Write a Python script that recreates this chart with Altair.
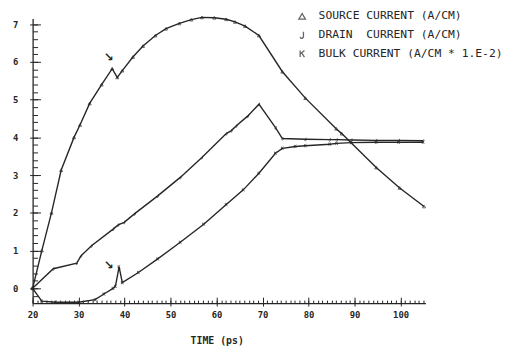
import altair as alt
import pandas as pd

# ---- data ----
series_names = [
    "SOURCE CURRENT (A/CM)",
    "DRAIN\u00a0\u00a0CURRENT (A/CM)",
    "BULK CURRENT (A/CM * 1.E-2)",
]

source_t = [20, 22, 24.1, 26.2, 29.0, 30.3, 32.4, 35.0, 37.3, 38.4, 39.5, 41.8, 44.0,
            46.7, 49.0, 51.9, 54.5, 56.8, 59.5, 62.1, 64.0, 66.2, 69.2, 74.3, 79.3,
            86.0, 87.2, 94.7, 99.8, 105.1]
source_i = [0, 1.0, 2.0, 3.13, 4.0, 4.33, 4.9, 5.4, 5.82, 5.59, 5.77, 6.13, 6.42,
            6.7, 6.88, 7.02, 7.12, 7.18, 7.17, 7.13, 7.06, 6.95, 6.7, 5.74, 5.04,
            4.23, 4.1, 3.2, 2.66, 2.17]

drain_t = [20, 24.5, 29.6, 30.5, 32.8, 37.5, 38.6, 39.9, 42.2, 47.2, 52.1, 56.8,
           62.1, 63.2, 64.3, 66.8, 69.2, 72.8, 74.3, 79.3, 84.6, 86.1, 89.3, 94.7,
           99.6, 104.9]
drain_i = [0, 0.52, 0.67, 0.86, 1.13, 1.57, 1.68, 1.75, 1.98, 2.45, 2.94, 3.47,
           4.1, 4.18, 4.31, 4.57, 4.88, 4.26, 3.97, 3.95, 3.94, 3.94, 3.93, 3.92,
           3.92, 3.91]

bulk_t = [20, 22.0, 25, 30, 33.6, 35.5, 37.5, 38.0, 38.8, 39.5, 43, 47.2, 52.1,
          57.2, 62.1, 65.8, 69.2, 72.8, 74.3, 77.1, 79.3, 84.6, 86.1, 89.3, 94.7,
          99.6, 104.9]
bulk_i = [0, -0.34, -0.37, -0.37, -0.3, -0.15, 0.0, 0.05, 0.57, 0.15, 0.42, 0.78,
          1.22, 1.7, 2.22, 2.61, 3.05, 3.58, 3.71, 3.76, 3.78, 3.82, 3.84, 3.86,
          3.87, 3.87, 3.87]

arrow_t = [36.6, 36.6]
arrow_i = [6.12, 0.62]
arrow_txt = ["\u2198", "\u2198"]

x_major = [20, 30, 40, 50, 60, 70, 80, 90, 100]
x_minor = list(range(20, 106))
y_major = [0, 1, 2, 3, 4, 5, 6, 7]
y_minor = [round(-0.2 + 0.2 * k, 1) for k in range(37)]

rows = []
for name, ts, vs in zip(series_names, [source_t, drain_t, bulk_t],
                        [source_i, drain_i, bulk_i]):
    for k, (t, v) in enumerate(zip(ts, vs)):
        rows.append({"series": name, "t": t, "i": v, "order": k})
df = pd.DataFrame(rows)
ann = pd.DataFrame({"t": arrow_t, "i": arrow_i, "txt": arrow_txt})

INK = "#262626"
FONT = "DejaVu Sans Mono"

xs = alt.Scale(domain=[20, 105.4], nice=False, zero=False)
ys = alt.Scale(domain=[-0.39, 7.15], nice=False, zero=False)

shape_range = [
    "triangle-up",
    "M0.4,-1L0.4,0.6L0.1,1L-0.3,1L-0.6,0.6",
    "M-0.6,-1L-0.6,1M0.7,-1L-0.6,0.1M-0.2,-0.3L0.7,1",
]

lines = alt.Chart(df).mark_line(color=INK, strokeWidth=1.4).encode(
    x=alt.X("t:Q", scale=xs, axis=alt.Axis(
        orient="bottom", values=x_major, tickSize=3, tickColor=INK, domainColor=INK,
        domainWidth=1.3, labelFont=FONT, labelFontSize=9, labelFontWeight="bold",
        labelColor=INK, labelPadding=5, labelFlush=False, grid=False,
        title="TIME (ps)", titleFont=FONT, titleFontSize=10, titleFontWeight="bold",
        titleColor=INK, titleX=187, titleY=38, titleBaseline="middle")),
    y=alt.Y("i:Q", scale=ys, axis=alt.Axis(
        orient="left", values=y_major, tickSize=3, tickColor=INK, domainColor=INK,
        domainWidth=1.3, labelFont=FONT, labelFontSize=9, labelFontWeight="bold",
        labelColor=INK, labelPadding=12, labelFlush=False, grid=False, title=None)),
    detail="series:N",
    order="order:Q",
)

points = alt.Chart(df).mark_point(filled=False, size=10, strokeWidth=1, color=INK).encode(
    x=alt.X("t:Q", scale=xs, axis=alt.Axis(
        orient="bottom", values=x_minor, tickSize=3, offset=-3, domain=False,
        labels=False, grid=False, title=None, tickColor=INK)),
    y=alt.Y("i:Q", scale=ys, axis=alt.Axis(
        orient="left", values=y_minor, tickSize=5, offset=-5, domain=False,
        labels=False, grid=False, title=None, tickColor=INK)),
    shape=alt.Shape("series:N", scale=alt.Scale(domain=series_names, range=shape_range),
                    legend=alt.Legend(
                        orient="none", legendX=268, legendY=-8, title=None,
                        labelFont=FONT, labelFontSize=11.5, labelColor=INK,
                        labelLimit=400, labelOffset=11, symbolSize=45,
                        symbolStrokeColor=INK, symbolStrokeWidth=1.3,
                        rowPadding=6, padding=0)),
)

arrows = alt.Chart(ann).mark_text(font="DejaVu Sans", fontSize=12, color=INK,
                                  fontWeight="bold").encode(
    x=alt.X("t:Q", scale=xs, axis=alt.Axis(
        orient="bottom", values=x_major, tickSize=6, offset=-6, domain=False,
        labels=False, grid=False, title=None, tickColor=INK)),
    y=alt.Y("i:Q", scale=ys, axis=alt.Axis(
        orient="left", values=y_major, tickSize=8, offset=-8, domain=False,
        labels=False, grid=False, title=None, tickColor=INK)),
    text="txt:N",
)

chart = alt.layer(lines, points, arrows).resolve_axis(
    x="independent", y="independent"
).properties(
    width=399, height=289,
    autosize=alt.AutoSizeParams(type="none"),
    padding={"left": 25, "top": 8, "right": 93, "bottom": 46},
    background="white",
).configure_view(stroke=None)

chart.save("out.html", embed_options={"renderer": "svg", "actions": False})
